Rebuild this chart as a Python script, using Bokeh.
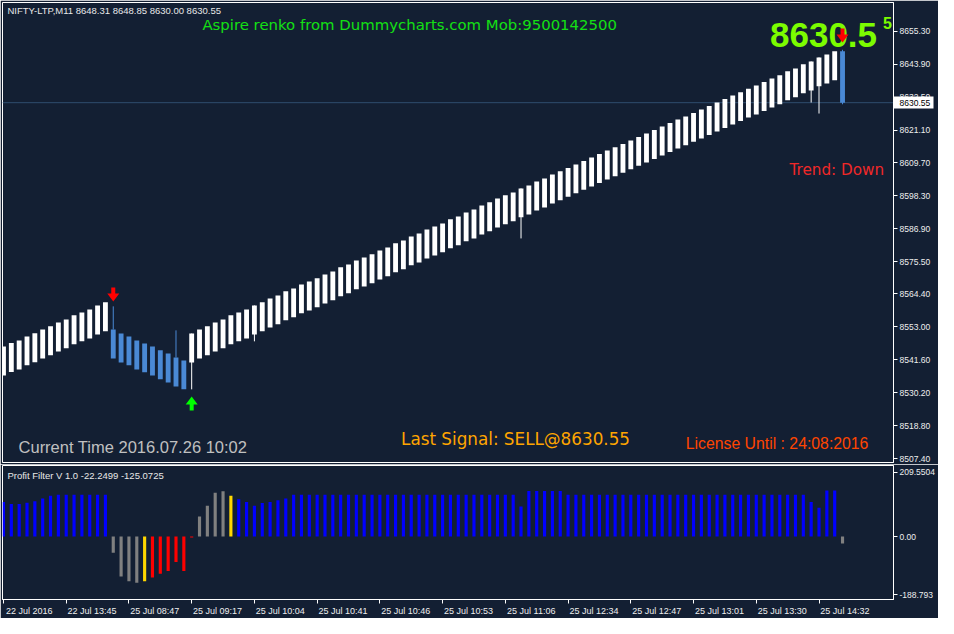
from bokeh.plotting import figure
from bokeh.layouts import column
from bokeh.models import (Range1d, FixedTicker, Label, Span, LinearAxis,
                          NumeralTickFormatter)
from bokeh.embed import file_html
from bokeh.resources import INLINE

# ---------------- data ----------------
bar_index = list(range(108))

brick_top = [8546.2, 8547.4, 8548.3, 8549.7, 8550.8, 8552.1, 8553.2, 8554.5, 8555.6, 8557.0,
             8558.0, 8559.0, 8560.4, 8561.5, 8552.1, 8550.7, 8549.7, 8548.3, 8547.3, 8546.2,
             8544.9, 8543.8, 8542.4, 8541.4, 8550.7, 8552.1, 8553.2, 8554.5, 8555.6, 8557.0,
             8558.0, 8559.0, 8560.4, 8561.5, 8562.8, 8563.9, 8565.3, 8566.3, 8567.7, 8568.7,
             8569.8, 8571.1, 8572.2, 8573.6, 8574.6, 8576.0, 8577.0, 8578.1, 8579.4, 8580.5,
             8581.9, 8582.9, 8584.3, 8585.3, 8586.7, 8587.7, 8588.8, 8590.2, 8591.2, 8592.6,
             8593.6, 8595.0, 8596.1, 8597.4, 8598.5, 8599.5, 8600.9, 8601.9, 8603.3, 8604.3,
             8605.7, 8606.8, 8608.0, 8609.2, 8610.4, 8611.6, 8612.8, 8614.0, 8615.1, 8616.3,
             8617.5, 8618.7, 8619.9, 8621.1, 8622.3, 8623.5, 8624.7, 8625.8, 8627.0, 8628.2,
             8629.4, 8630.6, 8631.8, 8633.0, 8634.2, 8635.4, 8636.5, 8637.7, 8638.9, 8640.0,
             8641.4, 8642.4, 8643.8, 8644.8, 8646.2, 8647.2, 8648.3, 8648.31]

brick_bottom = [8536.2, 8537.4, 8538.3, 8539.7, 8540.8, 8542.1, 8543.2, 8544.5, 8545.6, 8547.0,
                8548.0, 8549.0, 8550.4, 8551.5, 8542.1, 8540.7, 8539.7, 8538.3, 8537.3, 8536.2,
                8534.9, 8533.8, 8532.4, 8531.4, 8540.7, 8542.1, 8543.2, 8544.5, 8545.6, 8547.0,
                8548.0, 8549.0, 8550.4, 8551.5, 8552.8, 8553.9, 8555.3, 8556.3, 8557.7, 8558.7,
                8559.8, 8561.1, 8562.2, 8563.6, 8564.6, 8566.0, 8567.0, 8568.1, 8569.4, 8570.5,
                8571.9, 8572.9, 8574.3, 8575.3, 8576.7, 8577.7, 8578.8, 8580.2, 8581.2, 8582.6,
                8583.6, 8585.0, 8586.1, 8587.4, 8588.5, 8589.5, 8590.9, 8591.9, 8593.3, 8594.3,
                8595.7, 8596.8, 8598.0, 8599.2, 8600.4, 8601.6, 8602.8, 8604.0, 8605.1, 8606.3,
                8607.5, 8608.7, 8609.9, 8611.1, 8612.3, 8613.5, 8614.7, 8615.8, 8617.0, 8618.2,
                8619.4, 8620.6, 8621.8, 8623.0, 8624.2, 8625.4, 8626.5, 8627.7, 8628.9, 8630.0,
                8631.4, 8632.4, 8633.8, 8634.8, 8636.2, 8637.2, 8638.3, 8630.55]

brick_dir = ["up"] * 14 + ["down"] * 10 + ["up"] * 83 + ["down"]

wick_bar = [14, 22, 24, 32, 66, 103, 104, 107]
wick_high = [8560.1, 8551.8, 8550.7, 8560.4, 8600.9, 8644.8, 8646.2, 8648.85]
wick_low = [8552.1, 8542.4, 8531.4, 8548.0, 8583.6, 8630.6, 8626.8, 8630.00]

sell_bar = [14, 107]
sell_tip = [8561.8, 8651.4]
buy_bar = [24]
buy_tip = [8528.9]

last_price = 8630.55

price_ticks = [8655.30, 8643.90, 8632.50, 8621.10, 8609.70, 8598.30, 8586.90,
               8575.50, 8564.40, 8553.00, 8541.60, 8530.20, 8518.80, 8507.40]

time_tick_bars = [0, 8, 16, 24, 32, 40, 48, 56, 64, 72, 80, 88, 96, 104]
time_labels = ["22 Jul 2016", "22 Jul 13:45", "25 Jul 08:47", "25 Jul 09:17",
               "25 Jul 10:04", "25 Jul 10:41", "25 Jul 10:46", "25 Jul 10:53",
               "25 Jul 11:06", "25 Jul 12:34", "25 Jul 12:47", "25 Jul 13:01",
               "25 Jul 13:30", "25 Jul 14:32"]

pf_values = [112, 106, 106, 110, 115, 124, 133, 136, 136, 136, 136, 136, 136, 136,
             -53, -130, -145, -150, -145, -133, -121, -112, -83, -112, -3,
             65, 100, 142, 147, 133, 121, 112, 100, 109, 112, 118, 124, 136,
             136, 136, 136, 136, 136, 136, 136, 136, 136, 136, 136, 136, 136, 136,
             136, 136, 136, 136, 136, 136, 136, 136, 136, 136, 136, 136, 136, 136,
             98, 148, 148, 148, 148, 148,
             136, 136, 136, 136, 136, 136, 136, 136, 136, 136, 136, 136, 136, 136,
             136, 136, 136, 136, 136, 136, 136, 136, 136, 136, 136, 136, 136, 136,
             136, 136, 136,
             112, 94, 150, 150, -22.2499]
pf_state = (["up"] * 14 + ["flat"] * 4 + ["turn"] + ["down"] * 6 + ["flat"] * 4
            + ["turn"] + ["up"] * 77 + ["flat"])
pf_ticks = [209.5504, 0.0, -188.793]
pf_tick_labels = ["209.5504", "0.00", "-188.793"]

# ---------------- style ----------------
BG = "#131F33"
BRICK_COL = {"up": "#FFFFFF", "down": "#4A89D5"}
PF_COL = {"up": "#0000FF", "flat": "#808080", "turn": "#FFD700", "down": "#FF0000"}
AX_FONT = "Liberation Sans"
AX_SIZE = "8.5px"
AX_COLOR = "#EEEEEE"
W = 938
RB = 45

xr = Range1d(-0.125, 113.5)


def style_right_axis(ax):
    ax.major_tick_out = 4
    ax.major_tick_in = 0
    ax.minor_tick_out = 0
    ax.minor_tick_in = 0
    ax.axis_line_color = "white"
    ax.major_tick_line_color = "white"
    ax.major_label_standoff = 2
    ax.major_label_text_font = AX_FONT
    ax.major_label_text_font_size = AX_SIZE
    ax.major_label_text_color = AX_COLOR


# ---------------- main panel ----------------
p1 = figure(width=W, height=464, x_range=xr, y_range=Range1d(8506.1, 8665.2),
            output_backend="svg", toolbar_location=None,
            x_axis_location=None, y_axis_location="right",
            min_border_left=2, min_border_right=RB, min_border_top=2, min_border_bottom=2,
            background_fill_color=BG, border_fill_color=BG,
            outline_line_color="white", outline_line_width=1)
p1.grid.visible = False

ya = p1.yaxis[0]
ya.ticker = FixedTicker(ticks=price_ticks)
ya.formatter = NumeralTickFormatter(format="0.00")
style_right_axis(ya)

# current-price box on the price scale
price_box = LinearAxis(ticker=FixedTicker(ticks=[last_price]),
                       formatter=NumeralTickFormatter(format="0.00"),
                       axis_line_color=None, major_tick_out=0, major_tick_in=40,
                       major_tick_line_color="white", major_tick_line_width=12,
                       minor_tick_out=0, minor_tick_in=0,
                       major_label_standoff=-34, major_label_text_font=AX_FONT,
                       major_label_text_font_size=AX_SIZE,
                       major_label_text_color="#000000")
p1.add_layout(price_box, "right")

p1.add_layout(Span(location=last_price, dimension="width", line_color="#2E4D6E",
                   line_width=1, level="underlay"))

wick_cols = [BRICK_COL[brick_dir[b]] for b in wick_bar]
p1.segment(x0=wick_bar, y0=wick_low, x1=wick_bar, y1=wick_high,
           line_color=wick_cols, line_width=1)

brick_cols = [BRICK_COL[d] for d in brick_dir]
p1.vbar(x=bar_index, width=0.62, top=brick_top, bottom=brick_bottom,
        fill_color=brick_cols, line_color=None)

p1.add_layout(Label(x=0.5, y=8664.2, text="NIFTY-LTP,M11  8648.31 8648.85 8630.00 8630.55",
                    text_font=AX_FONT, text_font_size="9.5px", text_color="#E8E8E8",
                    text_align="left", text_baseline="top"))
p1.add_layout(Label(x=51.8, y=8657.3, text="Aspire renko from Dummycharts.com Mob:9500142500",
                    text_font="DejaVu Sans", text_font_size="14.9px", text_color="#14E014",
                    text_align="center", text_baseline="middle"))
p1.add_layout(Label(x=111.4, y=8653.8, text="8630.5",
                    text_font="Liberation Sans", text_font_style="bold",
                    text_font_size="35px", text_color="#7CFC00",
                    text_align="right", text_baseline="alphabetic"))
p1.add_layout(Label(x=112.15, y=8658.0, text="5",
                    text_font="Liberation Sans", text_font_style="bold",
                    text_font_size="16px", text_color="#7CFC00",
                    text_align="left", text_baseline="alphabetic"))
p1.add_layout(Label(x=112.3, y=8607.1, text="Trend: Down",
                    text_font="DejaVu Sans", text_font_size="15.2px", text_color="#F02828",
                    text_align="right", text_baseline="middle"))
p1.add_layout(Label(x=1.92, y=8511.3, text="Current Time 2016.07.26 10:02",
                    text_font="Liberation Sans", text_font_size="16.5px", text_color="#C0C0C0",
                    text_align="left", text_baseline="middle"))
p1.add_layout(Label(x=50.7, y=8514.1, text="Last Signal: SELL@8630.55",
                    text_font="DejaVu Sans", text_font_size="16.8px", text_color="#FFA500",
                    text_align="left", text_baseline="middle"))
p1.add_layout(Label(x=110.3, y=8512.7, text="License Until : 24:08:2016",
                    text_font="Liberation Sans", text_font_style="normal",
                    text_font_size="15.8px", text_color="#FF4500",
                    text_align="right", text_baseline="middle"))

# signal arrows (shape in screen pixels, tip at origin), drawn above the texts
PXX = 1 / 7.84
PXY = 1 / 2.891
down_shape = [(0, 0), (6, 8), (2, 8), (2, 14), (-2, 14), (-2, 8), (-6, 8)]
up_shape = [(dx, -dy) for dx, dy in down_shape]
p1.patches(xs=[[b + dx * PXX for dx, dy in down_shape] for b in sell_bar],
           ys=[[t + dy * PXY for dx, dy in down_shape] for t in sell_tip],
           fill_color="#FF0000", line_color=None, level="overlay")
p1.patches(xs=[[b + dx * PXX for dx, dy in up_shape] for b in buy_bar],
           ys=[[t + dy * PXY for dx, dy in up_shape] for t in buy_tip],
           fill_color="#00FF00", line_color=None, level="overlay")

# ---------------- indicator panel ----------------
p2 = figure(width=W, height=154, x_range=xr, y_range=Range1d(-204.7, 231.0),
            output_backend="svg", toolbar_location=None,
            x_axis_location="below", y_axis_location="right",
            min_border_left=2, min_border_right=RB, min_border_top=1, min_border_bottom=13,
            background_fill_color=BG, border_fill_color=BG,
            outline_line_color="white", outline_line_width=1)
p2.grid.visible = False

pf_cols = [PF_COL[s] for s in pf_state]
p2.vbar(x=bar_index, width=0.4, top=pf_values, bottom=0,
        fill_color=pf_cols, line_color=None)

ya2 = p2.yaxis[0]
ya2.ticker = FixedTicker(ticks=pf_ticks)
ya2.major_label_overrides = {t: l for t, l in zip(pf_ticks, pf_tick_labels)}
style_right_axis(ya2)

# time scale: tick marks at the bars, labels starting at each tick
LABEL_SHIFT = 3.3
label_pos = [b + LABEL_SHIFT for b in time_tick_bars]
xa = p2.xaxis[0]
xa.ticker = FixedTicker(ticks=label_pos, minor_ticks=time_tick_bars)
xa.major_label_overrides = {t: l for t, l in zip(label_pos, time_labels)}
xa.major_tick_out = 0
xa.major_tick_in = 0
xa.minor_tick_out = 4
xa.minor_tick_in = 0
xa.minor_tick_line_color = "white"
xa.axis_line_color = "white"
xa.major_label_standoff = 2
xa.major_label_text_font = AX_FONT
xa.major_label_text_font_size = "9px"
xa.major_label_text_color = AX_COLOR

p2.add_layout(Label(x=0.5, y=215.0, text="Profit Filter V 1.0  -22.2499 -125.0725",
                    text_font=AX_FONT, text_font_size="9.5px", text_color="#E8E8E8",
                    text_align="left", text_baseline="top"))

layout = column(p1, p2, spacing=0)
open("out.html", "w").write(file_html(layout, INLINE))
